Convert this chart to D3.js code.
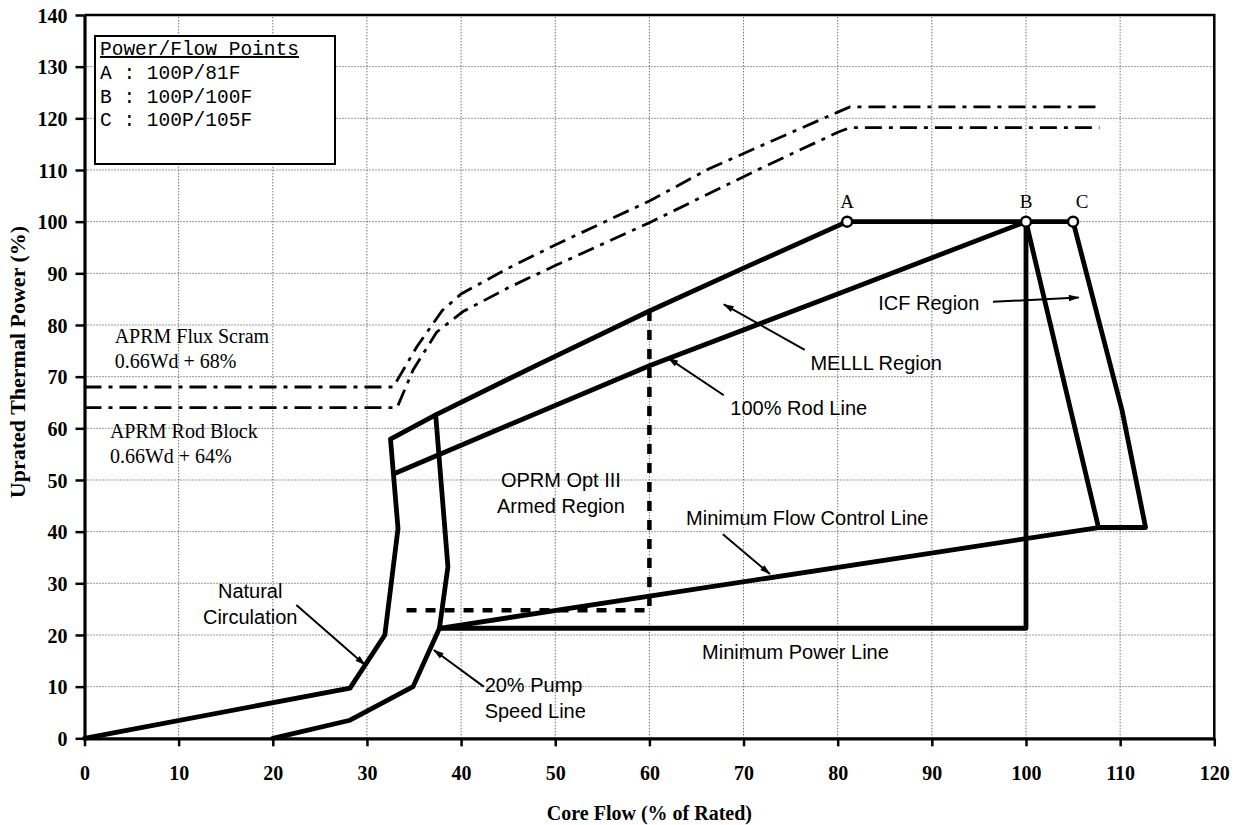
<!DOCTYPE html>
<html>
<head>
<meta charset="utf-8">
<script src="https://cdn.jsdelivr.net/npm/d3@7"></script>
<style>
  body { margin: 0; background: #fff; }
  svg { display: block; }
</style>
</head>
<body>
<svg id="chart" width="1243" height="825"></svg>
<script>
// ---- Axis ticks ----
const xTickValues = [0, 10, 20, 30, 40, 50, 60, 70, 80, 90, 100, 110, 120];
const yTickValues = [0, 10, 20, 30, 40, 50, 60, 70, 80, 90, 100, 110, 120, 130, 140];

// ---- Operating map boundaries: [core flow %, thermal power %] ----
const naturalCirculationBoundary = [
  [0, 0], [28.2, 9.7], [31.9, 20.0], [33.3, 40.6], [32.5, 57.9],
  [37.3, 62.6], [48, 72.2], [60, 82.7], [70, 91.0], [81, 100], [100, 100], [105, 100]
];
const pumpSpeedLine = [
  [20, 0], [28.2, 3.5], [34.9, 10.0], [37.7, 21.3], [38.6, 33.2], [37.3, 62.6]
];
const rodLine = [
  [33.0, 51.3], [45, 60.6], [60, 72.1], [80, 86.0], [100, 100]
];
const minimumPowerLine = [
  [37.7, 21.3], [100, 21.3], [100, 100]
];
const minimumFlowControlLine = [
  [37.7, 21.3], [107.7, 40.8], [112.7, 40.8], [110.2, 63.5], [105, 100]
];
const icfInnerLine = [
  [100, 100], [107.7, 40.8]
];
const oprmArmedBoundary = [
  [60, 82.7], [60, 24.8], [33.3, 24.8]
];

// ---- APRM setpoint lines ----
const aprmFluxScram = [
  [0, 68], [32.8, 68], [35.3, 75.8], [38, 82.8], [40, 86.0], [45, 91.0],
  [50, 95.5], [60, 104.0], [66.4, 110.3], [75, 117.2], [80, 121.2], [81.3, 122.2], [107.8, 122.2]
];
const aprmRodBlock = [
  [0, 64], [33.2, 64], [34.9, 71.3], [37.4, 78.6], [40.2, 82.6], [45, 87.2],
  [50, 91.5], [60, 99.8], [71.8, 110.3], [80, 117.3], [81.3, 118.2], [107.8, 118.2]
];

// ---- Rated power / flow state points ----
const stateLabels = ["A", "B", "C"];
const stateFlow = [81, 100, 105];
const statePower = [100, 100, 100];

// ---- Region annotations: text, anchor point, alignment ----
const regionLabels = [
  { lines: ["MELLL Region"], at: [77.1, 71.3], anchor: "start" },
  { lines: ["100% Rod Line"], at: [68.6, 62.6], anchor: "start" },
  { lines: ["ICF Region"], at: [84.3, 82.9], anchor: "start" },
  { lines: ["Minimum Flow Control Line"], at: [63.9, 41.3], anchor: "start" },
  { lines: ["Minimum Power Line"], at: [65.6, 15.3], anchor: "start" },
  { lines: ["OPRM Opt III", "Armed Region"], at: [50.6, 48.6], anchor: "middle" },
  { lines: ["Natural", "Circulation"], at: [17.6, 27.2], anchor: "middle" },
  { lines: ["20% Pump", "Speed Line"], at: [42.5, 9.0], anchor: "start" }
];
const setpointLabels = [
  { lines: ["APRM Flux Scram", "0.66Wd + 68%"], at: [3.2, 76.5] },
  { lines: ["APRM Rod Block", "0.66Wd + 64%"], at: [2.7, 58.1] }
];
// Leader arrows: [from, to]
const leaderArrows = [
  [[22.5, 25.8], [29.8, 14.2]],
  [[42.4, 10.0], [37.1, 17.1]],
  [[76.5, 75.2], [67.9, 84.0]],
  [[67.9, 66.4], [62.0, 73.6]],
  [[96.5, 84.5], [105.6, 85.3]],
  [[67.8, 39.5], [72.8, 31.8]]
];

const xTitle = "Core Flow (% of Rated)";
const yTitle = "Uprated Thermal Power (%)";
const legendTitle = "Power/Flow Points";

// ---- Layout ----
const svg = d3.select("#chart");
const x = d3.scaleLinear().domain([0, 120]).range([84.5, 1214.3]);
const y = d3.scaleLinear().domain([0, 140]).range([738.3, 15]);

const SERIF = "'Liberation Serif', 'Times New Roman', serif";
const SANS = "'Liberation Sans', Arial, sans-serif";
const MONO = "'Liberation Mono', 'Courier New', monospace";

const defs = svg.append("defs");
defs.append("marker")
  .attr("id", "arrowHead")
  .attr("viewBox", "0 -5 12 10")
  .attr("refX", 11).attr("refY", 0)
  .attr("markerUnits", "userSpaceOnUse")
  .attr("markerWidth", 13).attr("markerHeight", 9)
  .attr("orient", "auto")
  .append("path")
  .attr("d", "M0,-3.6L12,0L0,3.6Z")
  .attr("fill", "#000");

// Grid
const grid = svg.append("g").attr("stroke", "#333").attr("stroke-width", 1)
  .attr("stroke-dasharray", "1,2");
grid.selectAll("line.vx").data(xTickValues.slice(1, -1)).join("line")
  .attr("x1", d => x(d)).attr("x2", d => x(d))
  .attr("y1", y(0)).attr("y2", y(140));
grid.selectAll("line.hy").data(yTickValues.slice(1, -1)).join("line")
  .attr("y1", d => y(d)).attr("y2", d => y(d))
  .attr("x1", x(0)).attr("x2", x(120));

// Frame on top and right
svg.append("path")
  .attr("d", `M${x(0)},${y(140)}H${x(120)}V${y(0)}`)
  .attr("fill", "none").attr("stroke", "#000").attr("stroke-width", 2.5);

// Axes
const xAxis = svg.append("g").attr("transform", `translate(0,${y(0)})`)
  .call(d3.axisBottom(x).tickValues(xTickValues).tickSize(8).tickSizeOuter(0).tickPadding(20));
const yAxis = svg.append("g").attr("transform", `translate(${x(0)},0)`)
  .call(d3.axisLeft(y).tickValues(yTickValues).tickSize(9).tickSizeOuter(0).tickPadding(8));
[xAxis, yAxis].forEach(a => {
  a.select(".domain").attr("stroke", "#000").attr("stroke-width", 3.2);
  a.selectAll(".tick line").attr("stroke", "#000").attr("stroke-width", 2.5);
  a.selectAll(".tick text")
    .attr("fill", "#000")
    .style("font-family", SERIF).style("font-size", "20px").style("font-weight", "bold");
});
yAxis.selectAll(".tick text").attr("dy", "0.36em");

// Axis titles
svg.append("text")
  .attr("x", (x(0) + x(120)) / 2).attr("y", 820)
  .attr("text-anchor", "middle")
  .style("font-family", SERIF).style("font-size", "20px").style("font-weight", "bold")
  .text(xTitle);
svg.append("text")
  .attr("transform", `translate(25,362) rotate(-90)`)
  .attr("text-anchor", "middle")
  .style("font-family", SERIF).style("font-size", "22px").style("font-weight", "bold")
  .text(yTitle);

const line = d3.line().x(d => x(d[0])).y(d => y(d[1]));

// APRM setpoint lines (dash-dot)
[aprmFluxScram, aprmRodBlock].forEach(pts => {
  svg.append("path").attr("d", line(pts))
    .attr("fill", "none").attr("stroke", "#000").attr("stroke-width", 2.8)
    .attr("stroke-dasharray", "17,7,4,7");
});

// OPRM armed region boundary (heavy dashes)
svg.append("path").attr("d", line(oprmArmedBoundary))
  .attr("fill", "none").attr("stroke", "#000").attr("stroke-width", 4.5)
  .attr("stroke-dasharray", "10,9");

// Operating map boundaries
[naturalCirculationBoundary, pumpSpeedLine, rodLine, minimumPowerLine,
 minimumFlowControlLine, icfInnerLine].forEach(pts => {
  svg.append("path").attr("d", line(pts))
    .attr("fill", "none").attr("stroke", "#000").attr("stroke-width", 4.8)
    .attr("stroke-linejoin", "round").attr("stroke-linecap", "round");
});

// Leader arrows
svg.append("g").selectAll("line").data(leaderArrows).join("line")
  .attr("x1", d => x(d[0][0])).attr("y1", d => y(d[0][1]))
  .attr("x2", d => x(d[1][0])).attr("y2", d => y(d[1][1]))
  .attr("stroke", "#000").attr("stroke-width", 2)
  .attr("marker-end", "url(#arrowHead)");

// State points A, B, C
const states = stateLabels.map((s, i) => ({ s, f: stateFlow[i], p: statePower[i] }));
svg.append("g").selectAll("circle").data(states).join("circle")
  .attr("cx", d => x(d.f)).attr("cy", d => y(d.p)).attr("r", 5)
  .attr("fill", "#fff").attr("stroke", "#000").attr("stroke-width", 2.5);
svg.append("g").selectAll("text").data(states).join("text")
  .attr("x", d => x(d.f) + (d.s === "C" ? 9 : 0)).attr("y", d => y(d.p) - 14)
  .attr("text-anchor", "middle")
  .style("font-family", SERIF).style("font-size", "19px")
  .text(d => d.s);

// Region labels
regionLabels.forEach(lbl => {
  const t = svg.append("text")
    .attr("text-anchor", lbl.anchor)
    .style("font-family", SANS).style("font-size", "20px");
  lbl.lines.forEach((ln, i) => {
    t.append("tspan").attr("x", x(lbl.at[0])).attr("y", y(lbl.at[1]) + i * 26).text(ln);
  });
});

// Setpoint labels
setpointLabels.forEach(lbl => {
  const t = svg.append("text")
    .style("font-family", SERIF).style("font-size", "20px");
  lbl.lines.forEach((ln, i) => {
    t.append("tspan").attr("x", x(lbl.at[0])).attr("y", y(lbl.at[1]) + i * 25).text(ln);
  });
});

// Power/flow point legend box
const legend = svg.append("g");
legend.append("rect")
  .attr("x", 95).attr("y", 36).attr("width", 240).attr("height", 128)
  .attr("fill", "#fff").attr("stroke", "#000").attr("stroke-width", 2);
const legendText = legend.append("text")
  .style("font-family", MONO).style("font-size", "19.5px");
legendText.append("tspan").attr("x", 100).attr("y", 55)
  .style("text-decoration", "underline").text(legendTitle);
states.forEach((d, i) => {
  legendText.append("tspan").attr("x", 100).attr("y", 79 + i * 23.5)
    .text(`${d.s} : ${d.p}P/${d.f}F`);
});
</script>
</body>
</html>
